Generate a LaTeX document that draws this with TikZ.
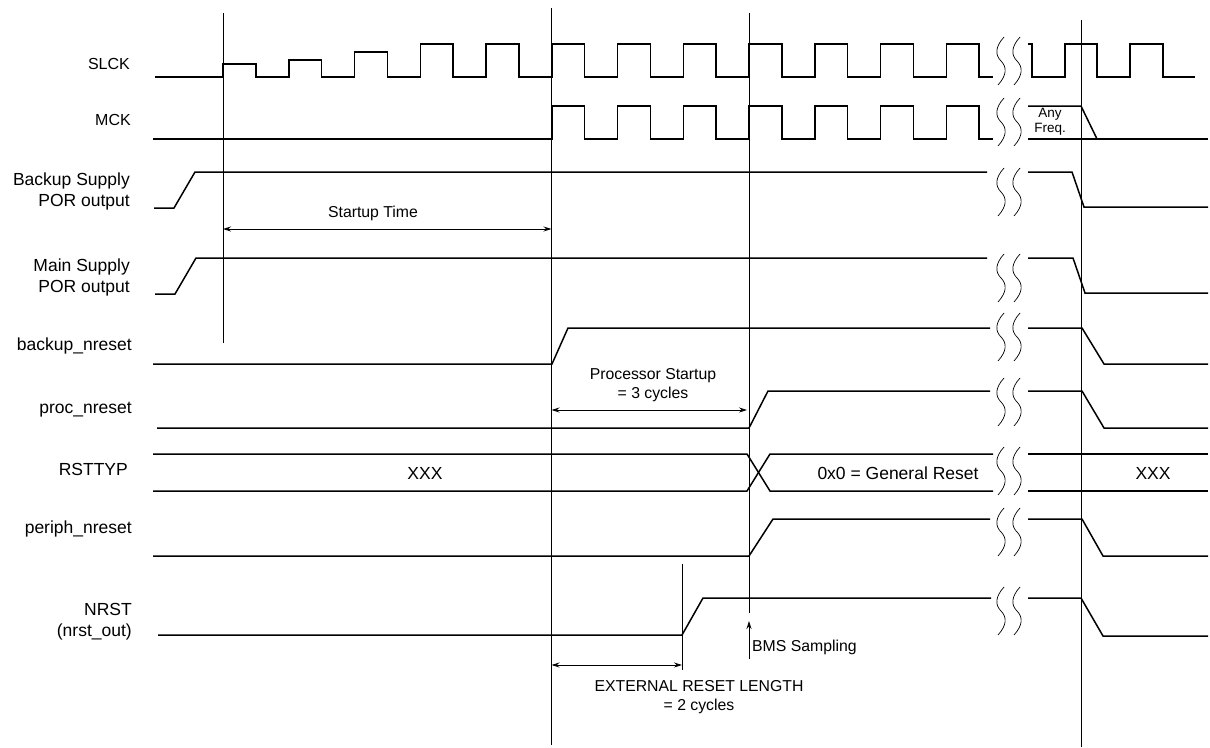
\documentclass[tikz,border=0pt]{standalone}
\usepackage{fontspec}
\setmainfont{Liberation Sans}
\usetikzlibrary{arrows.meta, positioning}

% break symbol drawn across a waveform at height #1
\newcommand{\cutmark}[1]{%
  \foreach \dx in {0,16} {
    \draw[cut] ({1004+\dx},{#1-24}) .. controls ({995+\dx},{#1-14}) and ({995+\dx},{#1-6}) .. ({1001+\dx},{#1})
      .. controls ({1007+\dx},{#1+6}) and ({1007+\dx},{#1+14}) .. ({998+\dx},{#1+24});
  }%
}

\begin{document}
\begin{tikzpicture}[x=1pt, y=-1pt,
        sig/.style={line width=1.5pt, line join=miter},
        guide/.style={line width=0.7pt},
        cut/.style={line width=0.7pt},
        dim/.style={line width=0.8pt, {Stealth[length=8pt,width=5pt]}-{Stealth[length=8pt,width=5pt]}},
        lbl/.style={anchor=east, align=right, inner sep=0pt, font=\fontsize{17.5}{21}\selectfont},
        val/.style={inner sep=0pt, font=\fontsize{17.5}{21}\selectfont},
        note/.style={align=center, inner sep=0pt, font=\fontsize{15.8}{19}\selectfont}
    ]
        \useasboundingbox (0,0) rectangle (1210,747);

        % signal names
        \node[lbl, font=\fontsize{16}{20}\selectfont] (slck) at (130,64) {SLCK};
        \node[lbl, font=\fontsize{16}{20}\selectfont] (mck) at (131,120) {MCK};
        \node[lbl] (bkpor) at (130,191) {Backup Supply\\POR output};
        \node[lbl] (mnpor) at (130,277) {Main Supply\\POR output};
        \node[lbl] (bkrst) at (132,346) {backup\_nreset};
        \node[lbl] (procrst) at (132,410) {proc\_nreset};
        \node[lbl] (rsttyp) at (128,469) {RSTTYP};
        \node[lbl] (perrst) at (132,529) {periph\_nreset};
        \node[lbl] (nrst) at (132,622) {NRST\\(nrst\_out)};

        % guide lines
        \draw[guide] (223,13) -- (223,343);
        \draw[guide] (551.5,8) -- (551.5,745);
        \draw[guide] (749,13) -- (749,613);
        \draw[guide] (682,564) -- (682,670);
        \draw[guide] (1081,20) -- (1081,747);

        % SLCK
        \draw[sig] (155,77) \foreach \k/\h in {0/64,1/60,2/52,3/44,4/44,5/44,6/44,7/44,8/44,9/44,10/44,11/44} {
            -- ({223+65.75*\k},77) -- ({223+65.75*\k},\h) -- ({255.875+65.75*\k},\h) -- ({255.875+65.75*\k},77)
          } -- (993,77);
        \draw[sig] (1028,44) -- (1032,44) -- (1032,77) -- (1065,77) -- (1065,44) -- (1097,44) -- (1097,77)
          -- (1130,77) -- (1130,44) -- (1163,44) -- (1163,77) -- (1195,77);

        % MCK
        \draw[sig] (153,139) \foreach \k in {5,...,11} {
            -- ({223+65.75*\k},139) -- ({223+65.75*\k},106) -- ({255.875+65.75*\k},106) -- ({255.875+65.75*\k},139)
          } -- (993,139);
        \draw[sig] (1028,106) -- (1081,106) -- (1097,139);
        \draw[sig] (1028,139) -- (1208,139);
        \node[align=center, inner sep=0pt, font=\fontsize{13.5}{15}\selectfont] (anyf) at (1050,122) {Any\\Freq.};

        % supplies
        \draw[sig] (154,208) -- (174,208) -- (195,172) -- (987,172);
        \draw[sig] (1028,172) -- (1072,172) -- (1084,207) -- (1208,207);
        \draw[sig] (155,294) -- (175,294) -- (196,258) -- (987,258);
        \draw[sig] (1028,258) -- (1073,258) -- (1085,293) -- (1208,293);

        % resets
        \draw[sig] (153,364) -- (552,364) -- (568,328) -- (990,328);
        \draw[sig] (1028,328) -- (1082,328) -- (1104,364) -- (1208,364);
        \draw[sig] (157,428) -- (749,428) -- (768,391) -- (990,391);
        \draw[sig] (1028,391) -- (1082,391) -- (1104,428) -- (1208,428);
        \draw[sig] (153,454) -- (747,454) -- (770,491) -- (993,491);
        \draw[sig] (153,491) -- (747,491) -- (770,454) -- (993,454);
        \draw[sig] (1028,454) -- (1208,454);
        \draw[sig] (1028,491) -- (1208,491);
        \draw[sig] (153,556) -- (749,556) -- (773,519) -- (990,519);
        \draw[sig] (1028,519) -- (1082,519) -- (1103,556) -- (1208,556);
        \draw[sig] (158,635) -- (682,635) -- (703,598) -- (991,598);
        \draw[sig] (1028,598) -- (1081,598) -- (1103,636) -- (1208,636);

        \node[val] (xxx1) at (425,473) {XXX};
        \node[val] (gen) at (898,473) {0x0 = General Reset};
        \node[val] (xxx2) at (1153,473) {XXX};

        % breaks
        \foreach \y in {61,122,192,278,337,402,471,532,611} {
            \cutmark{\y}
        }

        % timings
        \coordinate (st0) at (223,229);
        \coordinate (st1) at (551.5,229);
        \draw[dim] (st0) -- (st1);
        \node[note] (sttime) at (373,213) {Startup Time};

        \coordinate (ps0) at (551.5,410);
        \coordinate (ps1) at (747,410);
        \draw[dim] (ps0) -- (ps1);
        \node[note] (pstart) at (653,385) {Processor Startup\\= 3 cycles};

        \coordinate (er0) at (551.5,665);
        \coordinate (er1) at (682,665);
        \draw[dim] (er0) -- (er1);
        \node[note] (extrst) at (699,697) {EXTERNAL RESET LENGTH\\= 2 cycles};

        \coordinate (bms0) at (749,659);
        \coordinate (bms1) at (749,621);
        \draw[line width=0.8pt, -{Stealth[length=8pt,width=5pt]}] (bms0) -- (bms1);
        \node[note, anchor=west] (bms) at (752,647) {BMS Sampling};
    \end{tikzpicture}
\end{document}
